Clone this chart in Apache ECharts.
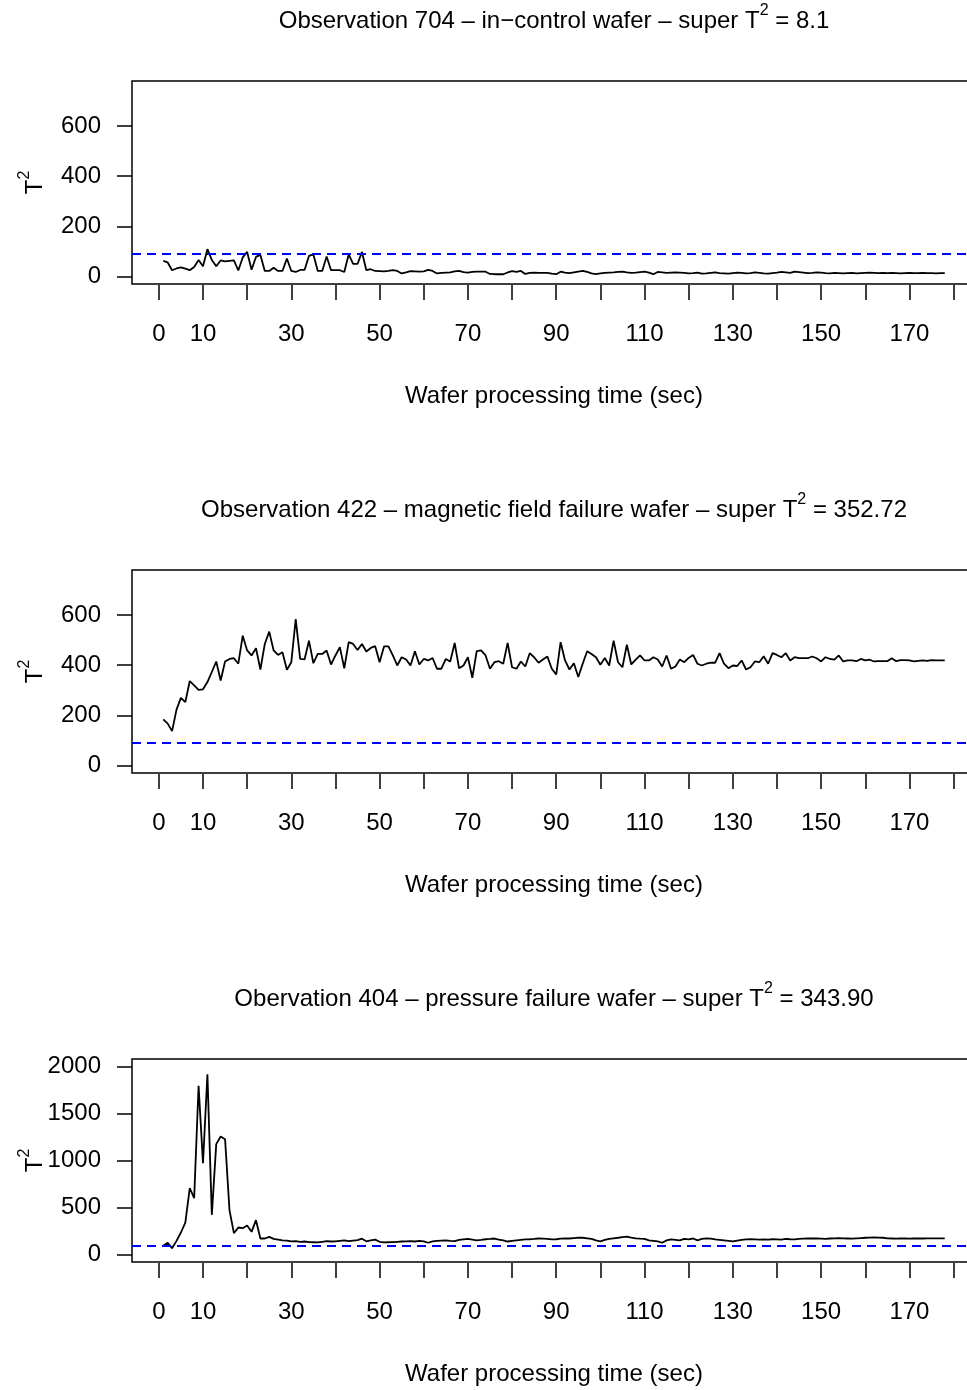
<!DOCTYPE html>
<html>
<head>
<meta charset="utf-8">
<script src="https://cdn.jsdelivr.net/npm/echarts@6/dist/echarts.min.js"></script>
<style>
html,body{margin:0;padding:0;background:#fff;overflow:hidden;}
#chart{width:977px;height:1390px;}
</style>
</head>
<body>
<div id="chart"></div>
<script>
// ---- data ----
const xTickValues = [0,10,20,30,40,50,60,70,80,90,100,110,120,130,140,150,160,170,180];
const xLabelValues = [0,10,30,50,70,90,110,130,150,170];
const yTicksT2Small = [0,200,400,600];
const yTicksT2Large = [0,500,1000,1500,2000];
const threshold = 90;

const titles = [
  ['Observation 704 \u2013 in\u2212control wafer \u2013 super T', '2', ' = 8.1'],
  ['Observation 422 \u2013 magnetic field failure wafer \u2013 super T', '2', ' = 352.72'],
  ['Obervation 404 \u2013 pressure failure wafer \u2013 super T', '2', ' = 343.90']
];
const xName = 'Wafer processing time (sec)';

const t2Obs704 = [
  62,56,25,32,36,31,25,38,66,41,
  109,66,41,64,60,62,64,24,76,98,
  27,78,86,22,22,35,22,22,72,22,
  18,26,26,82,88,22,22,80,25,25,
  25,18,88,50,50,98,25,29,22,21,
  20,22,25,22,12,16,21,20,19,20,
  26,22,12,14,15,16,20,22,17,15,
  18,19,19,19,10,9,9,9,16,21,
  18,22,10,14,15,14,14,14,11,9,
  19,15,13,16,19,22,18,12,9,12,
  14,15,16,18,19,16,14,15,17,19,
  15,9,18,16,14,15,16,15,14,12,
  13,15,11,12,14,16,13,12,11,13,
  15,14,12,13,16,14,12,11,13,15,
  18,16,14,19,17,15,13,14,16,15,
  13,12,14,13,12,13,14,12,13,14,
  15,14,13,14,13,14,13,12,13,14,
  13,13,14,13,13,12,13,13
];

const t2Obs422 = [
  184,167,137,223,270,253,337,320,302,304,
  333,373,415,339,415,425,428,406,518,459,
  439,468,383,485,534,459,441,452,382,412,
  584,425,423,498,408,445,445,459,403,439,
  472,388,492,485,461,485,455,469,476,412,
  475,475,439,399,432,423,399,456,403,425,
  419,429,386,386,425,415,489,388,399,432,
  350,456,459,439,386,412,416,406,489,392,
  386,415,395,448,432,410,423,435,386,363,
  492,419,383,408,353,406,456,445,432,402,
  429,399,498,412,392,482,403,422,439,419,
  419,432,423,395,439,386,395,423,412,429,
  441,406,399,406,410,410,448,406,388,399,
  397,419,383,392,415,412,436,406,448,441,
  432,448,419,432,428,428,428,435,428,415,
  432,425,422,439,415,419,419,416,425,419,
  422,415,416,416,416,428,416,420,420,419,
  415,417,419,417,420,419,419,419
];

const t2Obs404 = [
  92,124,67,145,234,340,706,599,1794,972,
  1918,422,1174,1255,1227,472,227,287,280,309,
  241,365,170,170,188,166,159,150,148,140,
  142,135,138,132,130,128,135,142,138,140,
  145,150,142,148,152,168,140,150,158,135,
  128,130,132,135,138,140,142,138,145,140,
  125,140,145,148,150,145,142,155,160,165,
  158,150,155,162,165,170,158,150,138,145,
  150,155,160,162,165,170,168,165,160,162,
  168,172,170,175,180,178,172,165,150,140,
  155,165,172,178,185,190,180,172,168,165,
  150,145,140,125,150,160,155,150,165,160,
  170,150,165,172,168,160,155,150,145,140,
  148,155,160,162,160,158,160,158,162,160,
  158,165,162,160,165,168,170,172,170,168,
  165,170,172,175,172,170,168,172,175,178,
  180,182,180,178,172,170,168,172,170,168,
  170,172,170,172,172,172,172,172
];

const panels = [
  {values: t2Obs704, yMin: -30, yMax: 780, yTicks: yTicksT2Small},
  {values: t2Obs422, yMin: -30, yMax: 780, yTicks: yTicksT2Small},
  {values: t2Obs404, yMin: -80, yMax: 2080, yTicks: yTicksT2Large}
];

// ---- layout / style ----
const FONT = '"Liberation Sans", Arial, Helvetica, sans-serif';
const FS = 24;
const panelStep = 489;
const gridTop0 = 81;
const gridH = 203;
const gridLeft = 132;
const gridRight = 1;
const centerX = 554;

const chart = echarts.init(document.getElementById('chart'), null, {renderer: 'canvas'});

const grids = [], xAxes = [], yAxes = [], series = [], titleOpts = [];
panels.forEach((p, k) => {
  const top = gridTop0 + k * panelStep;
  grids.push({
    left: gridLeft, right: gridRight, top: top, height: gridH,
    show: true, borderColor: '#000', borderWidth: 1.5, backgroundColor: 'transparent',
    containLabel: false, outerBoundsMode: 'none'
  });
  xAxes.push({
    type: 'value', gridIndex: k, min: -6.08, max: 185.08, offset: 1, position: 'bottom',
    axisLine: {show: false, onZero: false},
    axisTick: {show: true, length: 15, customValues: xTickValues, lineStyle: {color: '#000', width: 1.5}},
    axisLabel: {show: true, customValues: xLabelValues, margin: 37, color: '#000', fontSize: FS, fontFamily: FONT,
      formatter: v => String(v)},
    splitLine: {show: false},
    name: xName, nameLocation: 'middle', nameGap: 99, nameMoveOverlap: false,
    nameTextStyle: {color: '#000', fontSize: FS, fontFamily: FONT}
  });
  yAxes.push({
    type: 'value', gridIndex: k, min: p.yMin, max: p.yMax, position: 'left',
    axisLine: {show: false, onZero: false},
    axisTick: {show: true, length: 15, customValues: p.yTicks, lineStyle: {color: '#000', width: 1.5}},
    axisLabel: {show: true, customValues: p.yTicks, margin: 31, color: '#000', fontSize: FS, fontFamily: FONT,
      formatter: v => String(v)},
    splitLine: {show: false},
    name: '{t|T}{s|2}', nameLocation: 'middle', nameRotate: 90, nameGap: 85, nameMoveOverlap: false,
    nameTextStyle: {
      color: '#000', fontFamily: FONT,
      rich: {
        t: {fontSize: FS, fontFamily: FONT, fontWeight: 'normal', color: '#000', lineHeight: 30, verticalAlign: 'bottom'},
        s: {fontSize: 16, fontFamily: FONT, fontWeight: 'normal', color: '#000', lineHeight: 30, verticalAlign: 'top'}
      }
    }
  });
  series.push({
    type: 'line', xAxisIndex: k, yAxisIndex: k,
    data: p.values.map((v, i) => [i + 1, v]),
    showSymbol: false, symbol: 'none',
    lineStyle: {color: '#000', width: 1.8},
    z: 3,
    markLine: {
      silent: true, symbol: ['none', 'none'], label: {show: false},
      lineStyle: {color: '#0000FF', type: [9, 6], width: 1.8},
      data: [{yAxis: threshold}],
      animation: false
    }
  });
  const t = titles[k];
  titleOpts.push({
    text: '{m|' + t[0] + '}{s|' + t[1] + '}{m|' + t[2] + '}',
    left: centerX, top: 3 + k * panelStep, textAlign: 'center', padding: 0,
    textStyle: {
      fontWeight: 'normal', fontFamily: FONT, fontSize: FS, color: '#000',
      rich: {
        m: {fontSize: FS, fontFamily: FONT, fontWeight: 'normal', color: '#000', lineHeight: 30, verticalAlign: 'bottom'},
        s: {fontSize: 16, fontFamily: FONT, fontWeight: 'normal', color: '#000', lineHeight: 30, verticalAlign: 'top'}
      }
    }
  });
});

chart.setOption({
  animation: false,
  backgroundColor: '#fff',
  title: titleOpts,
  grid: grids,
  xAxis: xAxes,
  yAxis: yAxes,
  series: series
});
</script>
</body>
</html>
